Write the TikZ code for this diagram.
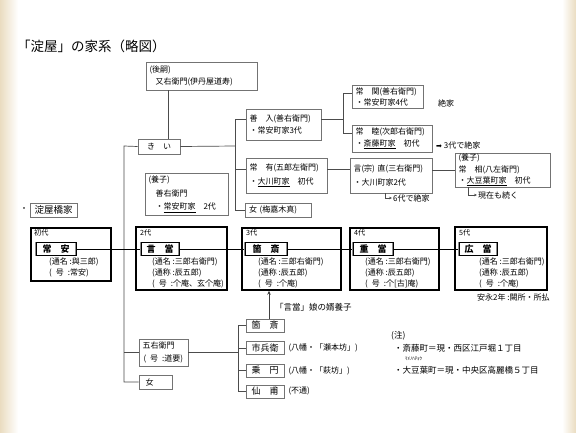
\documentclass[tikz,border=0pt]{standalone}
\usepackage{fontspec}
\setmainfont{Noto Sans CJK JP}
\newfontfamily\dejavu{DejaVu Sans}
\usetikzlibrary{arrows.meta}
\newcommand\fsz[2]{\fontsize{#1pt}{#2pt}\selectfont}
\newcommand\gou{\hbox to 2em{\hss 号\hss}}
\definecolor{beige}{RGB}{234,220,192}
\begin{document}
\begin{tikzpicture}[x=1pt,y=-1pt,
  tbox/.style={draw=black!55, line width=0.6pt, inner ysep=0pt, inner xsep=3.5pt, align=left, font=\fsz{8}{11.5}},
  cbox/.style={draw=black!55, line width=0.6pt, inner sep=0pt, align=center, font=\fsz{9}{10}},
  gen/.style={draw=black, line width=1.4pt, inner sep=0pt},
  namebox/.style={draw=black!45, line width=1.8pt, inner sep=0pt, minimum height=13pt, font=\bfseries\fsz{9}{10}, postaction={draw=black, line width=0.5pt}},
  txt/.style={inner sep=0pt, align=left, font=\fsz{8}{10.8}},
  lbl/.style={inner sep=0pt, font=\fsz{8}{9}},
  conn/.style={draw=black!70, line width=0.7pt},
  chain/.style={draw=black, line width=0.9pt},
  tip/.style={-{Stealth[length=3pt,width=2.6pt]}, shorten >=1pt},
]
\useasboundingbox (0,0) rectangle (576,432);
\fill[white] (0,0) rectangle (576,432);
\shade[left color=beige, right color=white] (0,0) rectangle (18,432);
\shade[left color=white, right color=beige] (562,0) rectangle (576,432);

% title
\node[anchor=west, inner sep=0pt, font=\fsz{13.5}{15}] (title) at (17,46) {「淀屋」の家系（略図）};

% upper family
\node[tbox, minimum width=111pt, minimum height=28pt, text width=104pt, font=\fsz{8}{12}] (hou) at (201.5,76) {(後嗣)\\\hspace{6pt}又右衛門(伊丹屋道寿)};
\node[cbox, minimum width=42pt, minimum height=15pt, font=\fsz{8}{9}] (kii) at (159,146.5) {き　い};
\node[tbox, minimum width=75pt, minimum height=31pt, text width=68pt] (zennyu) at (283.5,124.5) {善　入(善右衛門)\\・常安町家3代};
\node[tbox, minimum width=71pt, minimum height=23pt, text width=64pt, font=\fsz{8}{11}] (tsunezeki) at (387.5,96.5) {常　関(善右衛門)\\・常安町家4代};
\node[tbox, minimum width=80pt, minimum height=27pt, text width=73pt, font=\fsz{8}{12}] (tsunemutsu) at (392,138.5) {常　睦(次郎右衛門)\\・\underline{斎藤町家}　初代};
\node[tbox, minimum width=81pt, minimum height=35pt, text width=74pt, font=\fsz{8}{13.5}] (tsuneari) at (286.5,175.5) {常　有(五郎左衛門)\\・\underline{大川町家}　初代};
\node[tbox, minimum width=82pt, minimum height=35pt, text width=75pt, font=\fsz{8}{13.5}] (gensou) at (391,175.5) {言(宗) 直(三右衛門)\\・大川町家2代};
\node[tbox, minimum width=95pt, minimum height=34pt, text width=88pt] (tsunesuke) at (502.5,170) {(養子)\\常　相(八左衛門)\\・\underline{大豆葉町家}　初代};
\node[tbox, minimum width=83pt, minimum height=42pt, text width=76pt, font=\fsz{8}{13.8}] (youshi) at (186.5,194) {(養子)\\\hspace{7pt}善右衛門\\\hspace{7pt}・\underline{常安町家}　2代};
\node[tbox, minimum width=66pt, minimum height=14pt, text width=59pt] (onna1) at (278.5,210) {女 (梅嘉木真)};

\node[lbl, anchor=west] (zekke1) at (438,103) {絶家};
\node[lbl, anchor=west] (zekke3) at (436,145) {{\dejavu\fsz{7}{8}➡}\ 3代で絶家};
\node[lbl, anchor=west] (zekke6) at (393,198) {6代で絶家};
\node[lbl, anchor=west] (genzai) at (478,195) {現在も続く};

% yodoyabashi
\node[inner sep=0pt, font=\fsz{8}{9}] (bullet) at (24,210) {・};
\node[cbox, minimum width=47pt, minimum height=14pt, font=\fsz{9.5}{10}] (yodoya) at (53.5,210) {淀屋橋家};

% generations
\node[gen, minimum width=80pt, minimum height=53pt] (g1) at (71,254.5) {};
\node[lbl, anchor=north west, font=\fsz{7.2}{8}] (g1l) at (34,229.5) {初代};
\node[namebox, minimum width=40pt] (n1) at (56,249) {常　安};
\node[txt, anchor=north west] (g1t) at (49,258) {(通名 :與三郎)\\(\gou :常安)};

\node[gen, minimum width=91pt, minimum height=63pt] (g2) at (181.5,258.5) {};
\node[lbl, anchor=north west, font=\fsz{7.2}{8}] (g2l) at (140,229.5) {2代};
\node[namebox, minimum width=38pt] (n2) at (160,249) {言　當};
\node[txt, anchor=north west] (g2t) at (152,258) {(通名 :三郎右衛門)\\(通称 :辰五郎)\\(\gou :个庵、玄个庵)};

\node[gen, minimum width=99pt, minimum height=62pt] (g3) at (291.5,259) {};
\node[lbl, anchor=north west, font=\fsz{7.2}{8}] (g3l) at (246,229.5) {3代};
\node[namebox, minimum width=42pt] (n3) at (266,249) {箇　斎};
\node[txt, anchor=north west] (g3t) at (258,258) {(通名 :三郎右衛門)\\(通称 :辰五郎)\\(\gou :个庵)};

\node[gen, minimum width=89pt, minimum height=62pt] (g4) at (394.5,259) {};
\node[lbl, anchor=north west, font=\fsz{7.2}{8}] (g4l) at (354,229.5) {4代};
\node[namebox, minimum width=40pt] (n4) at (373,249) {重　當};
\node[txt, anchor=north west] (g4t) at (365,258) {(通名 :三郎右衛門)\\(通称 :辰五郎)\\(\gou :个[古]庵)};

\node[gen, minimum width=92pt, minimum height=63pt] (g5) at (501,258.5) {};
\node[lbl, anchor=north west, font=\fsz{7.2}{8}] (g5l) at (459,229.5) {5代};
\node[namebox, minimum width=38pt] (n5) at (478,249) {広　當};
\node[txt, anchor=north west] (g5t) at (479,258) {(通名 :三郎右衛門)\\(通称 :辰五郎)\\(\gou :个庵)};
\node[lbl, anchor=west] (anei) at (477,297) {安永2年 :闕所・所払};

% lower family
\node[tbox, minimum width=49pt, minimum height=27pt, text width=42pt, font=\fsz{8}{12.5}] (goemon) at (163.5,352.5) {五右衛門\\\hspace{1pt}(\gou :道要)};
\node[tbox, minimum width=33pt, minimum height=14pt, text width=20pt, inner xsep=6.5pt] (onna2) at (155.5,382) {女};
\node[cbox, minimum width=38pt, minimum height=13pt] (kasai2) at (265,325.5) {箇　斎};
\node[cbox, minimum width=38pt, minimum height=13pt] (ichibee) at (265,348) {市兵衛};
\node[cbox, minimum width=38pt, minimum height=13pt] (jouen) at (265,370.5) {乗　円};
\node[cbox, minimum width=38pt, minimum height=13pt] (sensuke) at (265,391.5) {仙　甫};
\node[lbl, anchor=west] (l1) at ([xshift=4pt]ichibee.east) {(八幡・「瀬本坊」)};
\node[lbl, anchor=west] (l2) at ([xshift=4pt]jouen.east) {(八幡・「萩坊」)};
\node[lbl, anchor=west] (l3) at ([xshift=4pt]sensuke.east) {(不通)};
\node[lbl, anchor=west, font=\fsz{8.5}{9}] (muko) at (275,307) {「言當」娘の婿養子};

% notes
\node[anchor=west, inner sep=0pt, font=\fsz{8.5}{10}] (note0) at (391,336) {(注)};
\node[anchor=west, inner sep=0pt, font=\fsz{8.5}{10}] (note1) at (394,348) {・斎藤町＝現・西区江戸堀１丁目};
\node[anchor=west, inner sep=0pt, font=\fsz{4.8}{5}] (ruby) at (405,358.5) {ﾏﾒﾉﾊﾁｮｳ};
\node[anchor=west, inner sep=0pt, font=\fsz{8.5}{10}] (note2) at (394,370) {・大豆葉町＝現・中央区高麗橋５丁目};

% connectors
\coordinate (jL) at (124,146);
\coordinate (jR) at (235,146);
\coordinate (jR2) at (343,119);
\coordinate (jB) at (238,350);
\draw[conn] ([xshift=23pt]hou.south west) -- ([xshift=31pt]kii.north west);
\draw[conn] (kii.west) -- (jL) -- (jL |- onna2.west) -- (onna2.west);
\draw[conn] (jL |- goemon.west) -- (goemon.west);
\draw[conn] (kii.east) -- (jR);
\coordinate (zw) at ([yshift=5.5pt]zennyu.west);
\coordinate (ze) at ([yshift=5.5pt]zennyu.east);
\coordinate (tw) at ([yshift=6.5pt]tsuneari.west);
\coordinate (te) at ([yshift=6.5pt]tsuneari.east);
\coordinate (kw) at ([yshift=3.5pt]tsunezeki.west);
\coordinate (mw) at ([yshift=5.5pt]tsunemutsu.west);
\coordinate (ge) at ([yshift=5.5pt]gensou.east);
\draw[conn] (zw) -- (jR |- zw) -- (jR |- onna1.west) -- (onna1.west);
\draw[conn] (jR |- tw) -- (tw);
\draw[conn] (ze) -- (jR2);
\draw[conn] (kw) -- (jR2 |- kw) -- (jR2 |- mw) -- (mw);
\draw[conn] (te) -- (te -| gensou.west);
\draw[conn] (ge) -- (ge -| tsunesuke.west);
\draw[conn, tip] ([xshift=-6pt]gensou.south) |- (zekke6.west);
\draw[conn, tip] ([xshift=14pt]tsunesuke.south west) |- (genzai.west);

% main line
\draw[chain] (n1.east) -- (n2.west);
\draw[chain] (n2.east) -- (n3.west);
\draw[chain] (n3.east) -- (n4.west);
\draw[chain] (n4.east) -- (n5.west);

% lower connectors
\draw[conn] (goemon.east) -- (goemon.east -| jB);
\draw[conn] (jB |- kasai2.west) -- (jB |- sensuke.west);
\foreach \b in {kasai2,ichibee,jouen,sensuke}{\draw[conn] (jB |- \b.west) -- (\b.west);}
\coordinate (ka) at ([xshift=4pt]kasai2.north);
\draw[draw=black!75, line width=1pt, -{Stealth[length=4pt,width=3.5pt]}] (ka) -- (ka |- g3.south);
\end{tikzpicture}
\end{document}
